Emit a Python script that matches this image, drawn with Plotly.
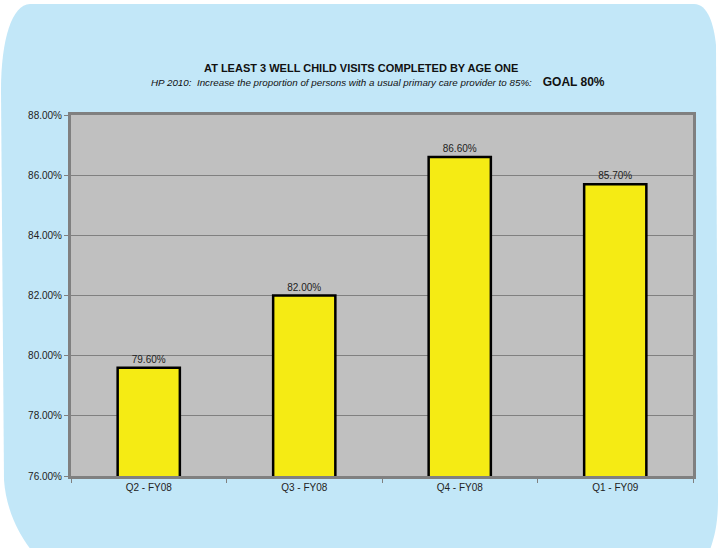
import plotly.graph_objects as go

categories = ["Q2 - FY08", "Q3 - FY08", "Q4 - FY08", "Q1 - FY09"]
values = [79.60, 82.00, 86.60, 85.70]
title_text = "AT LEAST 3 WELL CHILD VISITS COMPLETED BY AGE ONE"
subtitle_text = "HP 2010:  Increase the proportion of persons with a usual primary care provider to 85%:"
goal_text = "GOAL 80%"

W, H = 718, 548
L, R, T, B = 71, 25, 115, 72
PW, PH = W - L - R, H - T - B

def px(x, y):
    return ((x - L) / PW, (H - B - y) / PH)

def path(cmds):
    out = []
    for c in cmds:
        op = c[0]
        pts = c[1:]
        parts = []
        for i in range(0, len(pts), 2):
            a, b = px(pts[i], pts[i + 1])
            parts.append(f"{a:.5f},{b:.5f}")
        out.append(op + " " + " ".join(parts))
    return " ".join(out) + " Z"

blue_path = path([
    ("M", 30, 4), ("L", 694, 4), ("C", 708, 4, 714, 25, 716, 45),
    ("L", 718, 500), ("C", 718, 530, 712, 545, 706, 560),
    ("L", 40, 560), ("C", 20, 540, 6, 510, 4, 480),
    ("L", 1, 90), ("C", 1, 40, 12, 4, 30, 4),
])

font_family = "Liberation Sans, Arial, sans-serif"

fig = go.Figure(go.Bar(
    x=categories, y=values, width=0.40,
    marker=dict(color="#F5EB14", line=dict(color="#000000", width=2.5)),
    text=[f"{v:.2f}%" for v in values], textposition="outside",
    textfont=dict(size=10, color="#222222", family=font_family),
    cliponaxis=False,
))

fig.update_layout(
    width=W, height=H,
    margin=dict(l=L, r=R, t=T, b=B),
    paper_bgcolor="#FFFFFF",
    plot_bgcolor="#C0C0C0",
    font=dict(family=font_family, size=10, color="#222222"),
    showlegend=False,
    shapes=[
        dict(type="path", xref="paper", yref="paper", path=blue_path,
             fillcolor="#C2E7F8", line=dict(width=0), layer="below"),
        dict(type="rect", xref="paper", yref="paper", x0=0, x1=1, y0=0, y1=1,
             fillcolor="#C0C0C0", line=dict(width=0), layer="below"),
    ],
    annotations=[
        dict(text=f"<b>{title_text}</b>", xref="paper", yref="paper",
             x=px(361, 0)[0], y=px(0, 68)[1], showarrow=False,
             font=dict(size=11, color="#111111", family=font_family),
             xanchor="center", yanchor="middle"),
        dict(text=f"<i>{subtitle_text.replace('  ', '&nbsp; ')}</i>&nbsp;&nbsp;&nbsp;&nbsp;<b><span style='font-size:12px'>{goal_text}</span></b>",
             xref="paper", yref="paper",
             x=px(378, 0)[0], y=px(0, 82)[1], showarrow=False,
             font=dict(size=9.8, color="#111111", family=font_family),
             xanchor="center", yanchor="middle"),
    ],
)

fig.update_yaxes(
    range=[76, 88], dtick=2, tickformat=".2f", ticksuffix="%",
    showgrid=True, gridcolor="#808080", gridwidth=1,
    showline=True, linecolor="#808080", linewidth=3, mirror=True,
    ticks="outside", ticklen=4, tickcolor="#808080",
    tickfont=dict(size=10, color="#222222"), zeroline=False,
)
fig.update_xaxes(
    showline=True, linecolor="#808080", linewidth=3, mirror=True,
    ticks="outside", ticklen=4, tickcolor="#808080", tickson="boundaries",
    tickfont=dict(size=10, color="#222222"),
)

fig.write_html(
    "out.html",
    config={"displayModeBar": False},
    post_script="document.body.style.margin='0';document.body.style.overflow='hidden';",
)
